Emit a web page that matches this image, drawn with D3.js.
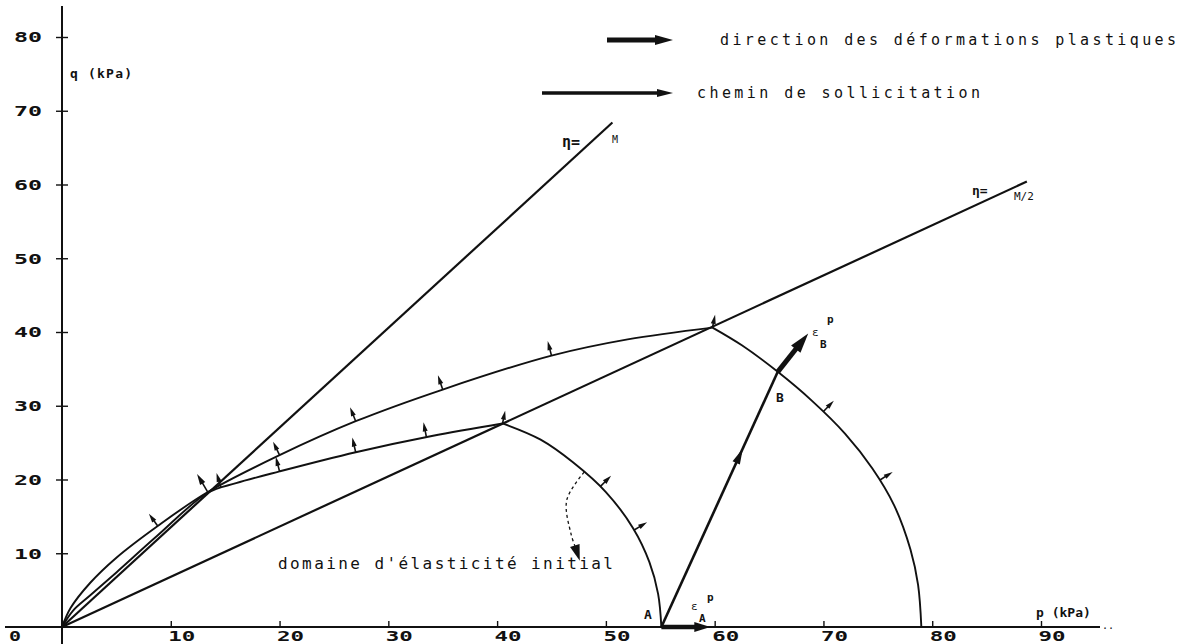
<!DOCTYPE html>
<html><head><meta charset="utf-8">
<script src="https://cdn.jsdelivr.net/npm/d3@7"></script>
<style>
body{margin:0;background:#fff;}
svg{display:block;}
text{font-family:"DejaVu Sans Mono","Liberation Mono",monospace;fill:#111;}
</style></head><body>
<svg id="c" width="1185" height="644"></svg>
<script>
// ---------- data (p, q in kPa) ----------
const xTicks=[10,20,30,40,50,60,70,80,90];
const yTicks=[10,20,30,40,50,60,70,80];
const lineM=[[0,0],[50.6,68.4]];
const lineM2=[[0,0],[88.7,60.4]];
const outerLeft=[[0,0],[0.8,2.6],[2.6,6.0],[5,9.4],[8.8,13.7],[13.4,18.3],[20,23.3],[27,27.9],[35,32.2],[45,36.8],[52,39.0],[59.8,40.6]];
const innerLeft=[[0,0],[1,2.2],[2.6,4.3],[5,7.4],[8.7,12.3],[13.4,18.2],[16,19.5],[20,21.1],[27,23.7],[34,25.9],[40.5,27.6]];
const innerRight=[[40.5,27.6],[44,25.4],[47,22.3],[50,18.3],[52.5,13.4],[54,8.8],[54.8,4.5],[55.1,0]];
const outerRight=[[59.8,40.6],[62.5,38.2],[65.8,34.6],[69,30.6],[72,26.2],[74.5,21.5],[76.5,16.5],[78,10.5],[78.7,5.7],[79,0]];
const stressPath=[[55.1,0],[65.8,34.6]];
const strainA=[[55.1,0],[59.6,0]];
const strainB=[[65.8,34.6],[68.6,39.8]];
const arrowsOuterLeft=[8.8,20,27,35,45];
const arrowJunction=[13.4];
const arrowsInnerLeft=[14.6,20,27,33.5];
const arrowsInnerRight=[49.5,52.6];
const arrowsOuterRight=[70,75.2];
const arrowTops=[[40.5,27.6],[59.8,40.6]];
const pointer=[[48.0,21.0],[46.4,17.2],[46.8,12.6],[47.2,10.8]];
const legendTexts=["direction des déformations plastiques","chemin de sollicitation"];

// ---------- setup ----------
const svg=d3.select('#c');
const x=d3.scaleLinear().domain([0,90]).range([62,1041]);
const y=d3.scaleLinear().domain([0,80]).range([627,37]);
const ink='#111';
const line=d3.line().x(d=>x(d[0])).y(d=>y(d[1]));
const smooth=d3.line().x(d=>x(d[0])).y(d=>y(d[1])).curve(d3.curveCatmullRom.alpha(0.5));

function headPath(tip,dir,len,wid){
  const bx=tip[0]-dir[0]*len, by=tip[1]-dir[1]*len;
  const nx=-dir[1], ny=dir[0];
  return `M${tip[0]},${tip[1]}L${bx+nx*wid/2},${by+ny*wid/2}L${bx-nx*wid/2},${by-ny*wid/2}Z`;
}

// ---------- axes ----------
svg.append('line').attr('x1',x(0)).attr('x2',x(0)).attr('y1',6).attr('y2',644)
  .attr('stroke',ink).attr('stroke-width',2);
svg.append('line').attr('x1',5).attr('x2',1100).attr('y1',y(0)).attr('y2',y(0))
  .attr('stroke',ink).attr('stroke-width',2.2);
svg.append('text').attr('x',1102).attr('y',y(0)+2).attr('font-size',10).text('..');

const gx=svg.append('g').attr('transform',`translate(0,${y(0)})`)
  .call(d3.axisBottom(x).tickValues(xTicks).tickSize(-6).tickSizeOuter(0).tickFormat(d3.format('d')));
gx.select('.domain').remove();
gx.selectAll('.tick line').attr('stroke',ink).attr('stroke-width',1.4).attr('y2',-6);
gx.selectAll('.tick text').attr('y',14).attr('dy',0).attr('x',-3).attr('text-anchor','start')
  .attr('font-size',14).attr('font-weight','bold').attr('fill',ink)
  .attr('textLength',27).attr('lengthAdjust','spacingAndGlyphs')
  .style('font-family','"DejaVu Sans Mono",monospace');
svg.append('text').attr('x',9).attr('y',y(0)+14).attr('font-size',14).attr('font-weight','bold')
  .attr('textLength',12).attr('lengthAdjust','spacingAndGlyphs').text('0');

const gy=svg.append('g').attr('transform',`translate(${x(0)},0)`)
  .call(d3.axisLeft(y).tickValues(yTicks).tickSize(6).tickSizeOuter(0).tickFormat(d3.format('d')));
gy.select('.domain').remove();
gy.selectAll('.tick line').attr('stroke',ink).attr('stroke-width',1.4).attr('x1',6).attr('x2',-6);
gy.selectAll('.tick text').attr('x',-20).attr('dy','0.35em').attr('text-anchor','end')
  .attr('font-size',14).attr('font-weight','bold').attr('fill',ink)
  .attr('textLength',28).attr('lengthAdjust','spacingAndGlyphs')
  .style('font-family','"DejaVu Sans Mono",monospace');

svg.append('text').attr('x',x(0)+8).attr('y',78).attr('font-size',13).attr('font-weight','bold')
  .attr('textLength',62).attr('lengthAdjust','spacing').text('q (kPa)');
svg.append('text').attr('x',1036).attr('y',y(0)-10).attr('font-size',13).attr('font-weight','bold')
  .text('p  (kPa)');

// ---------- lines & curves ----------
[lineM,lineM2].forEach(d=>svg.append('path').attr('d',line(d)).attr('fill','none')
  .attr('stroke',ink).attr('stroke-width',2.2));
const curves={};
[['ol',outerLeft],['il',innerLeft],['ir',innerRight],['or',outerRight]].forEach(([k,d])=>{
  curves[k]=svg.append('path').attr('d',smooth(d)).attr('fill','none')
   .attr('stroke',ink).attr('stroke-width',1.9).node();
});

// point + upward normal on a path at a given p
function onCurve(node,p){
  const tx=x(p), L=node.getTotalLength();
  let lo=0,hi=L;
  for(let i=0;i<40;i++){const m=(lo+hi)/2; if(node.getPointAtLength(m).x<tx) lo=m; else hi=m;}
  const s=(lo+hi)/2, a=node.getPointAtLength(Math.max(0,s-2)), b=node.getPointAtLength(Math.min(L,s+2));
  const pt=node.getPointAtLength(s);
  let tx_=b.x-a.x, ty_=b.y-a.y; const n=Math.hypot(tx_,ty_);
  let nx=ty_/n, ny=-tx_/n; if(ny>0){nx=-nx;ny=-ny;}
  return {pt:[pt.x,pt.y],n:[nx,ny]};
}
function smallArrow(base,dir,shaft,hl,hw){
  const s=[base[0]+dir[0]*shaft, base[1]+dir[1]*shaft];
  const tip=[s[0]+dir[0]*hl, s[1]+dir[1]*hl];
  svg.append('line').attr('x1',base[0]).attr('y1',base[1]).attr('x2',s[0]+dir[0]*2).attr('y2',s[1]+dir[1]*2)
    .attr('stroke',ink).attr('stroke-width',1.6);
  svg.append('path').attr('d',headPath(tip,dir,hl,hw)).attr('fill',ink);
}
arrowsOuterLeft.forEach(p=>{const r=onCurve(curves.ol,p); smallArrow(r.pt,r.n,6,9,5);});
arrowsInnerLeft.forEach(p=>{const r=onCurve(curves.il,p); smallArrow(r.pt,r.n,6,9,5);});
arrowsInnerRight.forEach(p=>{const r=onCurve(curves.ir,p); smallArrow(r.pt,r.n,6,9,5);});
arrowsOuterRight.forEach(p=>{const r=onCurve(curves.or,p); smallArrow(r.pt,r.n,6,9,5);});
arrowJunction.forEach(p=>{const r=onCurve(curves.ol,p); smallArrow(r.pt,r.n,10,11,6);});
arrowTops.forEach(d=>{const dir=[0.2,-0.98]; smallArrow([x(d[0]),y(d[1])],dir,4,9,5);});

// ---------- stress path & plastic strain arrows ----------
(function(){
  const a=[x(stressPath[0][0]),y(stressPath[0][1])], b=[x(stressPath[1][0]),y(stressPath[1][1])];
  svg.append('line').attr('x1',a[0]).attr('y1',a[1]).attr('x2',b[0]).attr('y2',b[1])
    .attr('stroke',ink).attr('stroke-width',2.6);
  const L=Math.hypot(b[0]-a[0],b[1]-a[1]), dir=[(b[0]-a[0])/L,(b[1]-a[1])/L];
  const t=0.7, tip=[a[0]+dir[0]*L*t, a[1]+dir[1]*L*t];
  svg.append('path').attr('d',headPath(tip,dir,16,8)).attr('fill',ink);
})();
function thickArrow(d,w,hl,hw){
  const a=[x(d[0][0]),y(d[0][1])], b=[x(d[1][0]),y(d[1][1])];
  const L=Math.hypot(b[0]-a[0],b[1]-a[1]), dir=[(b[0]-a[0])/L,(b[1]-a[1])/L];
  svg.append('line').attr('x1',a[0]).attr('y1',a[1]).attr('x2',b[0]-dir[0]*hl*0.8).attr('y2',b[1]-dir[1]*hl*0.8)
    .attr('stroke',ink).attr('stroke-width',w);
  svg.append('path').attr('d',headPath(b,dir,hl,hw)).attr('fill',ink);
}
thickArrow(strainA,4.5,16,10);
thickArrow(strainB,5,20,12);

// ---------- pointer "domaine d'élasticité initial" ----------
(function(){
  const pts=pointer.map(d=>[x(d[0]),y(d[1])]);
  svg.append('path').attr('d',d3.line().curve(d3.curveCatmullRom)(pts)).attr('fill','none')
    .attr('stroke',ink).attr('stroke-width',1.3).attr('stroke-dasharray','3,3');
  const a=pts[pts.length-2], b=pts[pts.length-1];
  const L=Math.hypot(b[0]-a[0],b[1]-a[1]), dir=[(b[0]-a[0])/L,(b[1]-a[1])/L];
  const tip=[b[0]+dir[0]*14,b[1]+dir[1]*14];
  svg.append('path').attr('d',headPath(tip,dir,16,10)).attr('fill',ink);
})();
svg.append('text').attr('x',278).attr('y',569).attr('font-size',16)
  .attr('textLength',335).attr('lengthAdjust','spacing').text("domaine d'élasticité initial");

// ---------- point labels ----------
svg.append('text').attr('x',644).attr('y',619).attr('font-size',13).attr('font-weight','bold').text('A');
svg.append('text').attr('x',691).attr('y',610).attr('font-size',11).text('ε');
svg.append('text').attr('x',699).attr('y',622).attr('font-size',11).attr('font-weight','bold').text('A');
svg.append('text').attr('x',707).attr('y',601).attr('font-size',11).attr('font-weight','bold').text('p');
svg.append('text').attr('x',776).attr('y',402).attr('font-size',13).attr('font-weight','bold').text('B');
svg.append('text').attr('x',812).attr('y',336).attr('font-size',11).text('ε');
svg.append('text').attr('x',820).attr('y',348).attr('font-size',11).attr('font-weight','bold').text('B');
svg.append('text').attr('x',827).attr('y',323).attr('font-size',11).attr('font-weight','bold').text('p');

// eta labels
svg.append('text').attr('x',562).attr('y',147).attr('font-size',15).attr('font-weight','bold').text('η=');
svg.append('text').attr('x',612).attr('y',143).attr('font-size',10).text('M');
svg.append('text').attr('x',972).attr('y',195).attr('font-size',13).attr('font-weight','bold').text('η=');
svg.append('text').attr('x',1014).attr('y',200).attr('font-size',11).text('M/2');

// ---------- legend ----------
svg.append('line').attr('x1',607).attr('x2',658).attr('y1',40).attr('y2',40).attr('stroke',ink).attr('stroke-width',5);
svg.append('path').attr('d',headPath([673,40],[1,0],18,10)).attr('fill',ink);
svg.append('text').attr('x',720).attr('y',45).attr('font-size',15)
  .attr('textLength',456).attr('lengthAdjust','spacing').text(legendTexts[0]);
svg.append('line').attr('x1',542).attr('x2',660).attr('y1',93).attr('y2',93).attr('stroke',ink).attr('stroke-width',3.5);
svg.append('path').attr('d',headPath([673,93],[1,0],16,8)).attr('fill',ink);
svg.append('text').attr('x',697).attr('y',98).attr('font-size',15)
  .attr('textLength',283).attr('lengthAdjust','spacing').text(legendTexts[1]);
</script></body></html>
